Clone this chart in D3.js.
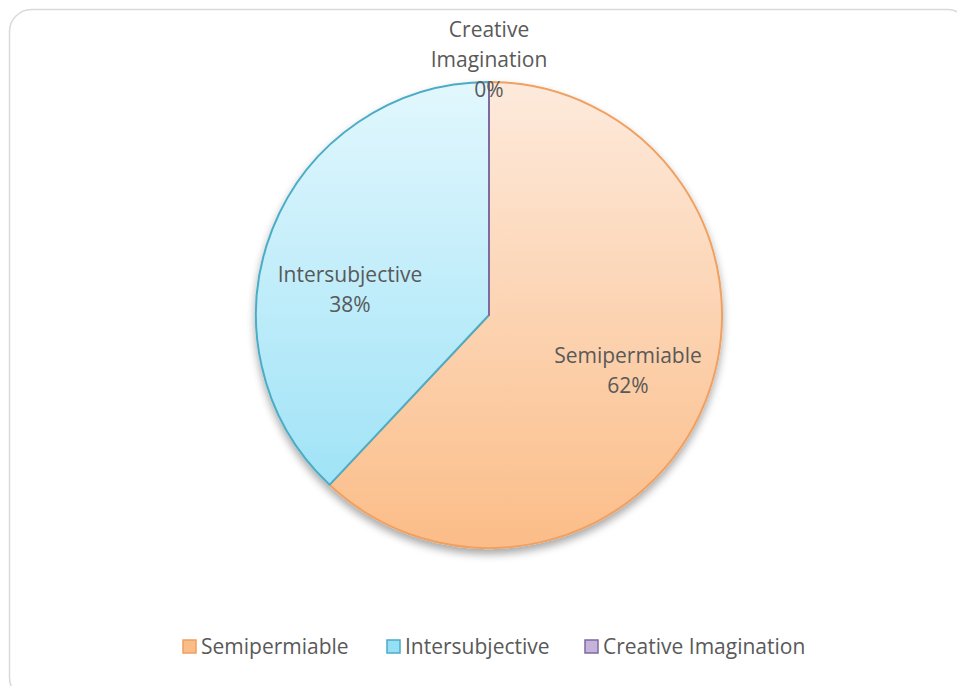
<!DOCTYPE html>
<html>
<head>
<meta charset="utf-8">
<script src="https://cdn.jsdelivr.net/npm/d3@7"></script>
<style>
  body { margin: 0; background: #fff; }
</style>
</head>
<body>
<div id="chart"></div>
<script>
const categories = ["Semipermiable", "Intersubjective", "Creative Imagination"];
const values = [62, 38, 0];
const percentLabels = ["62%", "38%", "0%"];

const width = 957, height = 686;
const cx = 489, cy = 315, radius = 233;

const fills = [
  ["#fdeadc", "#fbbd88"],
  ["#e2f7fd", "#96e0f6"],
  ["#e6dcf0", "#c5b3dc"]
];
const strokes = ["#f0a060", "#4bacc6", "#7f6aa0"];

const svg = d3.select("#chart").append("svg")
  .attr("width", width)
  .attr("height", height);

const defs = svg.append("defs");

// soft drop shadow under the pie
const filter = defs.append("filter")
  .attr("id", "drop-shadow")
  .attr("x", "-10%").attr("y", "-10%")
  .attr("width", "120%").attr("height", "130%");
filter.append("feGaussianBlur").attr("in", "SourceAlpha").attr("stdDeviation", 4).attr("result", "blur");
filter.append("feOffset").attr("in", "blur").attr("dx", 0).attr("dy", 5).attr("result", "offsetBlur");
filter.append("feComponentTransfer").attr("in", "offsetBlur").attr("result", "shadow")
  .append("feFuncA").attr("type", "linear").attr("slope", 0.35);
const merge = filter.append("feMerge");
merge.append("feMergeNode").attr("in", "shadow");
merge.append("feMergeNode").attr("in", "SourceGraphic");

fills.forEach((f, i) => {
  const g = defs.append("linearGradient")
    .attr("id", "grad" + i)
    .attr("gradientUnits", "userSpaceOnUse")
    .attr("x1", 0).attr("y1", -radius)
    .attr("x2", 0).attr("y2", radius);
  g.append("stop").attr("offset", "0%").attr("stop-color", f[0]);
  g.append("stop").attr("offset", "100%").attr("stop-color", f[1]);
});

// chart frame
svg.append("rect")
  .attr("x", 9.5).attr("y", 9.5)
  .attr("width", 960).attr("height", 690)
  .attr("rx", 22)
  .attr("fill", "#fff")
  .attr("stroke", "#d9d9d9")
  .attr("stroke-width", 1.5);

const pie = d3.pie().sort(null).value(d => d);
const arcs = pie(values);
const arc = d3.arc().innerRadius(0).outerRadius(radius);

const g = svg.append("g")
  .attr("transform", `translate(${cx},${cy})`);

g.append("g")
  .attr("filter", "url(#drop-shadow)")
  .selectAll("path")
  .data(arcs)
  .join("path")
  .attr("d", arc)
  .attr("fill", (d, i) => `url(#grad${i})`)
  .attr("stroke", (d, i) => strokes[i])
  .attr("stroke-width", 2)
  .attr("stroke-linejoin", "round");

// zero slice still shows as a line from centre to the top
arcs.forEach((d, i) => {
  if (d.endAngle - d.startAngle === 0) {
    g.append("line")
      .attr("x1", 0).attr("y1", 0)
      .attr("x2", radius * Math.sin(d.startAngle))
      .attr("y2", -radius * Math.cos(d.startAngle))
      .attr("stroke", strokes[i])
      .attr("stroke-width", 2);
  }
});

// data labels
const labelPos = [
  { x: 628, y: 356 },
  { x: 350, y: 275 },
  { x: 489, y: 30 }
];
const labelFont = "'Open Sans', Lato, sans-serif";

categories.forEach((c, i) => {
  const lines = i === 2 ? ["Creative", "Imagination", percentLabels[i]] : [c, percentLabels[i]];
  const t = svg.append("text")
    .attr("text-anchor", "middle")
    .attr("font-family", labelFont)
    .attr("font-size", 21)
    .attr("fill", "#595959");
  lines.forEach((ln, k) => {
    t.append("tspan")
      .attr("x", labelPos[i].x)
      .attr("y", labelPos[i].y + k * 30)
      .attr("dy", "0.35em")
      .text(ln);
  });
});

// legend
const legendX = [183, 387, 585];
const legend = svg.append("g");
categories.forEach((c, i) => {
  legend.append("rect")
    .attr("x", legendX[i]).attr("y", 640)
    .attr("width", 13).attr("height", 13)
    .attr("fill", fills[i][1])
    .attr("stroke", strokes[i])
    .attr("stroke-width", 1.5);
  legend.append("text")
    .attr("x", legendX[i] + 18).attr("y", 647)
    .attr("dy", "0.35em")
    .attr("font-family", labelFont)
    .attr("font-size", 21)
    .attr("fill", "#595959")
    .text(c);
});
</script>
</body>
</html>
